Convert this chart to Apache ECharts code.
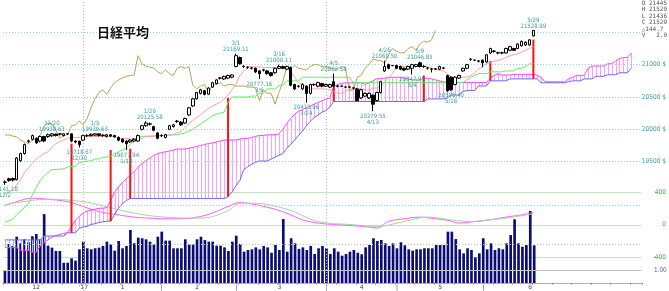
<!DOCTYPE html>
<html><head><meta charset="utf-8">
<script src="https://cdn.jsdelivr.net/npm/echarts@6/dist/echarts.min.js"></script>
<style>html,body{margin:0;padding:0;background:#fff;overflow:hidden}#c{width:669px;height:291px}</style>
</head><body><div id="c"></div>
<script>
// ---------- data ----------
const slotCount = 163;
const categories = Array.from({length: slotCount}, (_, i) => String(i));
const tickIdx  = [8, 20, 30, 40, 49, 59, 70, 82, 91, 100, 111, 122, 134];
const tickText = ['12', "'17", '1', '|', '2', '|', '3', '|', '4', '|', '5', '|', '6'];
const priceTicks = [19500, 20000, 20500, 21000];
const yearLines = [20, 82];

// [open, close, low, high]
const ohlc = [
[19180,19185,19141.18,19210],[19236,19210,19190,19250],[19240,19215,19195,19255],[19222,19556,19210,19570],[19514,19625,19500,19640],
[19625,19764,19610,19780],[19815,19822,19790,19840],[19847,19903,19830,19920],[19861,19792,19775,19875],[19819,19889,19800,19905],
[19889,19819,19800,19900],[19889,19917,19870,19935],[19900,19930,19885,19938.63],[19925,19905,19890,19935],[19925,19931,19905,19936],
[19903,19931,19890,19936],[19930,19934,19915,19937],[19930,19819,19800,19935],[19819,19806,19785,19830],[19815,19764,19718.67,19825],
[19833,19903,19820,19915],[19900,19905,19880,19925],[19903,19925,19890,19935],[19910,19930,19900,19939.63],[19930,19905,19890,19935],
[19905,19910,19885,19925],[19889,19915,19875,19930],[19915,19895,19880,19925],[19905,19885,19870,19915],[19875,19833,19815,19890],
[19847,19806,19790,19860],[19819,19778,19677.94,19830],[19806,19833,19790,19850],[19819,19847,19800,19865],[19819,19903,19805,19920],
[20000,20056,19985,20070],[20056,20097,20040,20125.58],[20080,20085,20060,20105],[20042,19986,19970,20055],[19944,19861,19845,19955],
[19900,19905,19880,19925],[19875,19917,19860,19930],[20000,20056,19990,20070],[20042,20069,20030,20085],[20120,20127,20100,20145],
[20111,20069,20050,20125],[20097,20167,20085,20180],[20222,20333,20210,20345],[20361,20472,20350,20485],[20472,20569,20460,20580],
[20556,20611,20540,20625],[20597,20542,20525,20610],[20542,20639,20530,20650],[20653,20722,20640,20735],[20708,20764,20695,20775],
[20790,20795,20770,20810],[20778,20819,20765,20830],[20792,20833,20780,20845],[20806,20840,20790,20850],[20972,21139,20960,21169.11],
[21111,21014,21000,21125],[20970,20975,20950,20990],[20955,20960,20935,20975],[20945,20950,20925,20965],[20944,20889,20870,20955],
[20903,20861,20777.16,20915],[20915,20920,20895,20935],[20903,20861,20845,20915],[20875,20833,20815,20885],[20875,20944,20860,20955],
[20944,20972,20930,21000.11],[20972,20944,20930,20985],[20931,20972,20915,20985],[20958,20681,20665,20970],[20694,20625,20605,20705],
[20665,20670,20645,20685],[20625,20694,20610,20710],[20667,20556,20412.96,20680],[20556,20694,20540,20705],[20690,20695,20670,20710],
[20667,20722,20650,20735],[20708,20667,20650,20720],[20667,20694,20655,20705],[20653,20694,20640,20705],[20736,20667,20650,20862.58],
[20665,20670,20650,20685],[20667,20668,20660,20675],[20653,20654,20645,20660],[20653,20655,20645,20662],[20637,20642,20620,20655],
[20625,20444,20430,20640],[20486,20611,20470,20625],[20514,20556,20500,20570],[20486,20556,20470,20570],[20528,20389,20279.55,20540],
[20444,20569,20430,20580],[20569,20736,20555,20750],[20903,20972,20890,21060.50],[21000,20944,20930,21015],[20986,20987,20975,20995],
[20986,20944,20930,21000],[20972,20931,20915,20985],[20944,20917,20900,20955],[20931,20972,20915,20985],[20944,21000,20847.95,21012],
[20972,21000,20960,21012],[21028,20972,20955,21046.85],[20970,20975,20950,20990],[20945,20950,20925,20965],[20930,20935,20880,20950],
[20930,20935,20915,20950],[20931,20972,20915,20985],[20945,20950,20930,20965],[20833,20597,20580,20845],[20806,20611,20595.40,20820],
[20694,20806,20680,20820],[20792,20833,20780,20845],[20903,20944,20890,20955],[20944,21000,20930,21012],[21080,21085,21060,21100],
[21069,21070,21060,21078],[21053,21058,21035,21070],[21069,21028,20960,21080],[21042,21153,21030,21165],[21181,21250,21165,21262],
[21205,21210,21185,21225],[21180,21185,21160,21200],[21180,21185,21160,21200],[21181,21250,21170,21262],[21222,21278,21210,21290],
[21250,21222,21210,21262],[21250,21319,21240,21330],[21292,21361,21280,21372],[21306,21347,21290,21360],[21306,21384.3,21290,21390],
[21445,21529,21436,21529]
];

const volume = [
0.92,3.0,2.85,3.56,3.05,3.36,3.13,3.6,3.77,3.36,
5.3,2.87,2.72,2.46,2.46,1.56,1.56,1.9,1.72,2.59,
3.18,2.67,2.59,2.67,2.72,2.85,3.18,2.97,2.49,3.23,
2.67,2.85,4.08,3.05,3.49,3.44,3.36,3.18,2.97,3.56,
3.95,3.26,3.26,2.67,2.67,2.67,3.36,2.97,2.97,3.36,
3.56,3.3,3.18,3.18,2.87,2.87,2.74,2.46,3.18,3.64,
3.0,2.41,2.54,2.59,2.74,2.59,2.85,2.74,2.33,2.92,
2.54,4.92,2.41,3.44,3.05,2.62,2.74,2.54,2.85,2.23,
2.67,2.85,2.67,2.23,2.67,2.41,2.1,2.23,2.41,2.54,
2.33,2.21,2.74,2.92,3.44,3.23,3.31,3.05,2.85,3.05,
2.67,3.13,2.9,2.59,2.49,2.59,2.59,2.67,2.67,2.67,
2.92,2.92,2.92,3.95,3.95,3.38,2.59,2.28,2.67,2.54,
1.97,2.28,3.44,2.59,3.05,2.54,2.67,2.59,3.05,3.69,
4.9,3.05,2.79,2.92,5.54,2.9
];

// conversion line (tenkan) [slot, value]
const tenkan = [[0,19000],[2,19070],[3,19140],[4,19222],[5,19333],[6,19403],[7,19472],[8,19542],[9,19583],[10,19625],[11,19653],[12,19722],[13,19778],[14,19806],[15,19833],[16,19861],[17,19875],[20,19875],[21,19889],[28,19889],[29,19861],[31,19861],[32,19847],[34,19847],[35,19861],[36,19889],[38,19889],[39,19903],[41,19903],[42,19917],[43,19917],[44,19944],[45,19972],[46,20028],[47,20083],[48,20139],[49,20181],[50,20222],[51,20278],[52,20319],[53,20361],[54,20389],[55,20417],[56,20472],[57,20528],[58,20611],[59,20694],[60,20833],[61,20903],[62,20972],[72,20944],[73,20889],[74,20806],[75,20722],[76,20694],[77,20667],[78,20625],[82,20625],[83,20611],[84,20583],[85,20556],[86,20556],[87,20583],[88,20625],[91,20625],[92,20611],[93,20611],[94,20639],[95,20639],[96,20667],[97,20736],[98,20792],[99,20861],[100,20972],[108,20972],[109,20944],[110,20931],[111,20917],[112,20903],[113,20861],[114,20806],[118,20806],[119,20833],[120,20875],[121,20931],[122,20972],[123,21014],[124,21028],[125,21056],[126,21069],[127,21083],[128,21111],[129,21139],[130,21153],[131,21167],[132,21194],[133,21222],[134,21250],[135,21278]];

// base line (kijun) [slot, value]
const kijun = [[0,18569],[1,18583],[2,18611],[3,18681],[4,18736],[5,18792],[6,18847],[7,18986],[8,19097],[9,19208],[10,19278],[11,19333],[12,19375],[15,19389],[16,19417],[18,19431],[19,19486],[20,19500],[22,19514],[23,19542],[24,19542],[25,19569],[26,19569],[27,19583],[28,19611],[29,19653],[30,19681],[31,19708],[32,19764],[33,19833],[34,19889],[40,19903],[44,19917],[45,19931],[46,19944],[47,19972],[48,20000],[49,20042],[50,20083],[51,20125],[52,20167],[53,20208],[54,20236],[55,20250],[56,20264],[57,20417],[58,20500],[62,20500],[63,20514],[64,20514],[65,20556],[66,20556],[67,20625],[69,20625],[70,20681],[71,20681],[72,20750],[75,20750],[76,20806],[88,20806],[89,20722],[117,20722],[118,20764],[119,20806],[120,20833],[121,20861],[123,20861],[124,20889],[127,20889],[128,20903],[130,20903],[131,20944],[132,20944],[133,20972],[134,21014],[135,21014]];

// leading span A / B, one value per slot (0..160)
const senkouA = [
18170,18170,18170,18170,18125,18125,18125,18100,18100,18195,
18250,18290,18335,18360,18375,18390,18405,18500,18595,18655,
18710,18735,18750,18765,18780,18780,18790,18890,19030,19110,
19180,19235,19290,19345,19415,19470,19515,19555,19595,19625,
19640,19655,19665,19680,19695,19695,19695,19710,19720,19735,
19750,19765,19780,19790,19805,19820,19835,19835,19835,19835,
19850,19860,19860,19875,19890,19905,19905,19915,19915,19915,
19930,20000,20095,20165,20235,20280,20305,20335,20360,20390,
20415,20445,20470,20485,20665,20695,20710,20720,20720,20720,
20720,20720,20695,20720,20750,20780,20790,20790,20805,20805,
20805,20805,20790,20780,20765,20765,20765,20790,20790,20780,
20765,20750,20735,20725,20725,20725,20725,20725,20725,20725,
20725,20725,20725,20725,20790,20835,20860,20840,20840,20840,
20850,20850,20850,20850,20850,20850,20835,20805,20735,20735,
20735,20735,20735,20735,20780,20805,20835,20835,20835,20945,
20980,20980,20980,20980,21015,21015,21055,21097,21110,21110,
21180
];
const senkouB = [
18290,18290,18290,18290,18290,18290,18290,18290,18290,18290,
18350,18350,18350,18350,18350,18350,18400,18400,18400,18470,
18490,18500,18530,18540,18560,18570,18580,18580,18680,18780,
18850,18900,18930,18930,18930,18930,18930,18930,18930,18930,
18930,18930,18930,18930,18930,18930,18930,18930,18930,18930,
18930,18930,18930,18930,18930,18930,18930,18960,19030,19125,
19210,19375,19420,19460,19490,19510,19510,19510,19540,19570,
19600,19625,19710,19765,19835,19905,19970,20055,20125,20180,
20220,20265,20290,20345,20430,20430,20430,20430,20430,20430,
20430,20430,20430,20430,20430,20430,20430,20430,20430,20430,
20430,20430,20430,20430,20430,20430,20430,20430,20470,20470,
20470,20470,20470,20485,20530,20530,20530,20585,20600,20600,
20600,20670,20670,20670,20750,20750,20750,20750,20750,20780,
20780,20780,20780,20780,20780,20780,20780,20720,20720,20720,
20720,20720,20720,20720,20735,20750,20750,20750,20780,20780,
20780,20820,20820,20820,20845,20845,20845,20875,20875,20875,
20945
];

// red vertical markers: slot and top value (bottom sits on span B)
const redIdx = [17, 27, 32, 57, 84, 107, 124, 135];
const redTop = [19778, 19681, 19700, 20486, 20653, 20833, 21056, 21389];

// MACD and signal [slot, value]
const macd = [[0,234],[3,282],[7,324],[11,311],[16,282],[20,222],[24,161],[29,121],[33,93],[37,81],[41,73],[45,73],[50,101],[54,161],[57,222],[60,270],[63,255],[68,202],[72,142],[76,61],[80,21],[85,0],[89,-12],[93,-28],[95,-40],[98,40],[102,73],[106,93],[110,73],[113,55],[116,21],[120,40],[124,61],[128,93],[132,121],[135,149]];
const signal = [[0,242],[3,270],[11,311],[20,282],[24,242],[33,142],[41,93],[50,81],[57,170],[60,263],[63,263],[72,190],[80,40],[89,0],[95,-21],[102,40],[108,93],[111,81],[115,52],[120,40],[124,61],[128,81],[135,133]];

// annotations: slot, anchor value, date, value text, above/below
const notes = [
[0,19141.18,'12/2','19141.18','b'],[12,19938.63,'12/20','19938.63','a'],[19,19718.67,'12/30','19718.67','b'],
[23,19939.63,'1/5','19939.63','a'],[31,19677.94,'1/18','19677.94','b'],[37,20125.58,'1/26','20125.58','a'],
[59,21169.11,'3/1','21169.11','a'],[65,20777.16,'3/6','20777.16','b'],[70,21000.11,'3/16','21000.11','a'],
[77,20412.96,'3/24','20412.96','b'],[84,20862.58,'4/5','20862.58','a'],[94,20279.55,'4/13','20279.55','b'],
[97,21060.50,'4/26','21060.50','a'],[104,20847.95,'5/4','20847.95','b'],[106,21046.85,'5/9','21046.85','a'],
[114,20595.40,'5/18','20595.40','b'],[135,21528.99,'5/29','21528.99','a']
];

// ---------- chart ----------
const last = ohlc[ohlc.length - 1];
const prevClose = ohlc[ohlc.length - 2][1];
const chikou = ohlc.slice(25).map((d, i) => [i, d[1]]);
const hatch = senkouA.map((a, i) => [i, a, senkouB[i]]);
const redData = redIdx.map((s, k) => [s, senkouB[s], redTop[k]]);

const G = {left: 3, width: 639};
const noteFont = '6px "DejaVu Sans Condensed","DejaVu Sans",sans-serif';
const chart = echarts.init(document.getElementById('c'), null, {renderer: 'canvas'});

const priceSplitColors = [];
for (let v = 17500; v <= 22000; v += 500) priceSplitColors.push((v >= 19500 && v <= 21500) ? '#8fd0d0' : 'rgba(0,0,0,0)');

chart.setOption({
  animation: false,
  backgroundColor: '#ffffff',
  grid: [
    {left: G.left, width: G.width, top: -24, height: 324},
    {left: G.left, width: G.width, top: 192, height: 65.5},
    {left: G.left, width: G.width, top: 205, height: 78}
  ],
  xAxis: [
    {gridIndex: 0, type: 'category', data: categories, show: false},
    {gridIndex: 1, type: 'category', data: categories, show: false},
    {gridIndex: 2, type: 'category', data: categories,
      axisLine: {lineStyle: {color: '#b0b0b0', width: 1}},
      axisTick: {show: true, interval: (i) => i % 5 === 0, length: 1.5, lineStyle: {color: '#ff4040', width: 1}},
      axisLabel: {interval: (i) => tickIdx.includes(i), margin: 1, fontSize: 6, color: '#444',
        fontFamily: 'DejaVu Sans', formatter: (v) => tickText[tickIdx.indexOf(+v)]},
      splitLine: {show: false}}
  ],
  yAxis: [
    {gridIndex: 0, type: 'value', min: 17500, max: 22000, interval: 500, position: 'right',
      axisLine: {show: false}, axisTick: {show: false},
      splitLine: {show: true, lineStyle: {type: [1, 2], color: priceSplitColors, width: 1}},
      axisLabel: {margin: 25, align: 'right', fontSize: 6.5, color: '#3a9c9c', fontFamily: 'DejaVu Sans Condensed',
        formatter: (v) => priceTicks.includes(v) ? v + ' $' : ''}},
    {gridIndex: 1, type: 'value', min: -400, max: 400, interval: 400, position: 'right',
      axisLine: {show: false}, axisTick: {show: false},
      splitLine: {show: true, lineStyle: {color: '#bfe3bf', width: 1}},
      axisLabel: {margin: 25, align: 'right', fontSize: 6.5, color: '#4aa04a', fontFamily: 'DejaVu Sans Condensed'}},
    {gridIndex: 2, type: 'value', min: 0, max: 6, position: 'right',
      axisLine: {show: false}, axisTick: {show: false}, splitLine: {show: false}, axisLabel: {show: false}}
  ],
  graphic: [
    {type: 'text', left: 97, top: 26, z: 100,
      style: {text: '日経平均', font: 'bold 13px "Noto Sans CJK JP"', fill: '#111'}},
    {type: 'text', right: 2, top: 0, z: 100,
      style: {text: 'O ' + last[0] + '\nH ' + last[3] + '\nL ' + last[2] + '\nC ' + last[1] +
        '\n△' + (last[1] - prevClose).toFixed(1) + '\nV   ' + volume[volume.length - 1].toFixed(1),
        font: '6px "DejaVu Sans Mono"', fill: '#555', align: 'right', lineHeight: 6.5}}
  ],
  series: [
    // volume
    {type: 'bar', xAxisIndex: 2, yAxisIndex: 2, data: volume, barWidth: '68%', z: 1,
      itemStyle: {color: '#0c0c78'},
      markLine: {symbol: 'none', silent: true, animation: false,
        data: [
          {yAxis: 6, lineStyle: {type: [1, 2], color: '#9fd6d6', width: 1}, label: {show: false}},
          {yAxis: 3, lineStyle: {type: [1, 2], color: '#a9d6a9', width: 1}, label: {show: false}},
          {yAxis: 1, lineStyle: {type: 'solid', color: '#c4c4c4', width: 1},
            label: {show: true, position: 'end', formatter: '1.00', color: '#6060c0', fontSize: 6.5, distance: 12}}
        ]}},
    // MACD
    {type: 'line', xAxisIndex: 1, yAxisIndex: 1, data: macd, smooth: 0.4, showSymbol: false, z: 2,
      lineStyle: {color: '#ff5cff', width: 1}},
    {type: 'line', xAxisIndex: 1, yAxisIndex: 1, data: signal, smooth: 0.4, showSymbol: false, z: 2,
      lineStyle: {color: '#a6d3a6', width: 1}},
    // cloud hatch
    {type: 'custom', xAxisIndex: 0, yAxisIndex: 0, data: hatch, z: 3, silent: true,
      encode: {x: 0, y: [1, 2]},
      renderItem: (p, api) => {
        const i = api.value(0);
        const a = api.coord([i, api.value(1)]);
        const b = api.coord([i, api.value(2)]);
        const x = Math.round(a[0]) + 0.5;
        return {type: 'line', shape: {x1: x, y1: a[1], x2: x, y2: b[1]},
          style: {stroke: api.value(1) >= api.value(2) ? '#ff9cff' : '#a8b8ff', lineWidth: 1}};
      }},
    {type: 'line', xAxisIndex: 0, yAxisIndex: 0, data: senkouA, showSymbol: false, z: 4,
      lineStyle: {color: '#ff44ff', width: 1}},
    {type: 'line', xAxisIndex: 0, yAxisIndex: 0, data: senkouB, showSymbol: false, z: 4,
      lineStyle: {color: '#6868ff', width: 1},
      markLine: {symbol: 'none', silent: true, animation: false,
        lineStyle: {type: [1, 2], color: '#b8b8b8', width: 1}, label: {show: false},
        data: yearLines.map((s) => ({xAxis: categories[s]}))}},
    // red markers
    {type: 'custom', xAxisIndex: 0, yAxisIndex: 0, data: redData, z: 5, silent: true,
      encode: {x: 0, y: [1, 2]},
      renderItem: (p, api) => {
        const i = api.value(0);
        const a = api.coord([i, api.value(1)]);
        const b = api.coord([i, api.value(2)]);
        return {type: 'line', shape: {x1: a[0], y1: a[1], x2: b[0], y2: b[1]},
          style: {stroke: '#ff1010', lineWidth: 2}};
      }},
    // lagging span
    {type: 'line', xAxisIndex: 0, yAxisIndex: 0, data: chikou, showSymbol: false, z: 6,
      lineStyle: {color: '#b0a85a', width: 1}},
    // base & conversion
    {type: 'line', xAxisIndex: 0, yAxisIndex: 0, data: kijun, showSymbol: false, z: 6,
      lineStyle: {color: '#5ef05e', width: 1}},
    {type: 'line', xAxisIndex: 0, yAxisIndex: 0, data: tenkan, showSymbol: false, z: 6,
      lineStyle: {color: '#ffa0a0', width: 1}},
    // candles
    {type: 'candlestick', xAxisIndex: 0, yAxisIndex: 0, data: ohlc, barWidth: 3, z: 7,
      itemStyle: {color: '#ffffff', color0: '#000000', borderColor: '#000000', borderColor0: '#000000', borderWidth: 1}},
    // annotations
    {type: 'custom', xAxisIndex: 0, yAxisIndex: 0, data: notes, z: 8, silent: true,
      encode: {x: 0, y: 1},
      renderItem: (p, api) => {
        const n = notes[p.dataIndex];
        const c = api.coord([n[0], n[1]]);
        const above = n[4] === 'a';
        return {type: 'text', x: c[0], y: above ? c[1] - 1 : c[1] + 2,
          style: {text: above ? n[2] + '\n' + n[3] : n[3] + '\n' + n[2],
            font: noteFont, fill: '#3a9c9c', align: 'center', verticalAlign: above ? 'bottom' : 'top',
            textAlign: 'center', textVerticalAlign: above ? 'bottom' : 'top', lineHeight: 6}};
      }}
  ]
});
</script>
</body></html>
